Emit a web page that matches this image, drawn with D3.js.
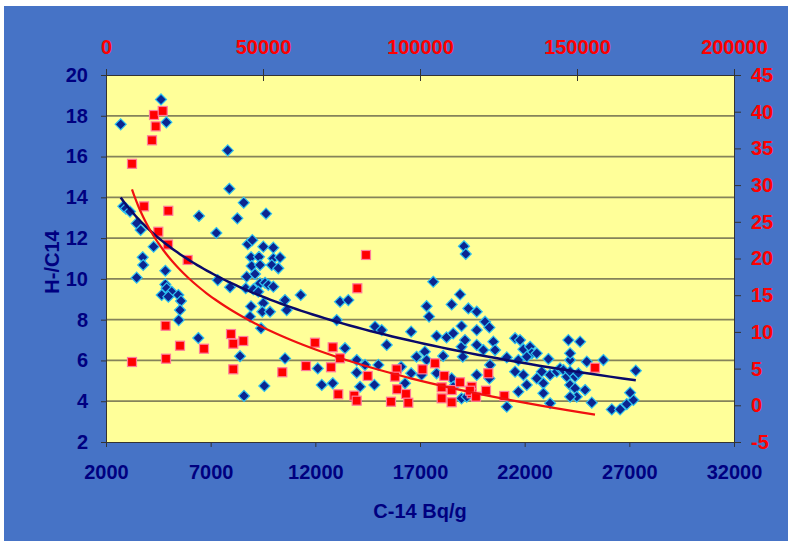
<!DOCTYPE html>
<html>
<head>
<meta charset="utf-8">
<script src="https://cdn.jsdelivr.net/npm/d3@7"></script>
<style>
html,body{margin:0;padding:0;background:#fff;}
svg{display:block;}
text{font-family:"Liberation Sans",Arial,sans-serif;font-weight:bold;}
</style>
</head>
<body>
<svg id="chart" width="788" height="541"></svg>
<script>
// ---- Data ----
const bottomTicks = [2000, 7000, 12000, 17000, 22000, 27000, 32000];
const leftTicks = [2, 4, 6, 8, 10, 12, 14, 16, 18, 20];
const topTicks = [0, 50000, 100000, 150000, 200000];
const rightTicks = [-5, 0, 5, 10, 15, 20, 25, 30, 35, 40, 45];
const xTitle = "C-14 Bq/g";
const yTitle = "H-/C14";

// Series 1 (blue diamonds): C-14 Bq/g (bottom axis) vs H-/C14 (left axis)
const blueX = [
 4628,2702,4883,7815,7893,8580,9645,6443,8274,7271,
 2828,2950,3147,3465,3656,4274,3752,3777,
 8770,8990,9516,9994,8928,9310,9994,10314,
 3465,4835,4835,4661,4899,5138,4978,5456,5583,5536,5472,6410,7337,7925,8402,8593,9564,10552,
 8957,9358,9917,10232,8722,9119,8675,9038,9358,9597,9755,9994,9277,
 8928,9516,9468,9836,10552,10632,8880,9406,
 19100,19186,17633,11302,13180,13576,18914,18513,19310,19711,17315,17433,13022,14852,15172,16576,15411,13417,
 12117,13977,14374,13977,15012,14135,14822,12308,12833,
 16834,17233,17315,18107,17792,18268,18587,18985,18985,19150,19711,19711,
 16098,16576,16286,17076,17792,18513,18587,18985,19711,19234,
 20109,20314,20027,20505,20586,19043,20347,20314,21146,21146,21700,21542,21781,21939,22259,22340,22101,22578,23133,
 21542,21939,22101,22578,22894,22894,23214,21700,22815,23214,23534,23692,23850,24012,24170,24409,24567,
 24170,24170,24089,24648,24170,24409,24489,24170,24887,24968,25761,25206,26162,26559,26879,27194,27037,27309
];
const blueY = [
 18.8,17.58,17.68,16.3,14.42,13.74,13.2,13.09,12.97,12.25,
 13.56,13.45,13.3,12.72,12.4,11.58,11.06,10.68,
 11.7,11.9,11.58,11.53,11.06,11.08,11.0,11.05,
 10.06,10.4,9.73,9.21,9.54,9.37,9.13,9.21,8.92,8.47,7.98,7.1,9.94,9.59,6.21,4.26,4.75,6.1,
 10.63,10.68,10.68,10.52,10.11,10.24,9.54,9.49,9.78,9.81,9.7,9.62,9.37,
 8.65,8.81,8.39,8.39,8.96,8.47,8.15,7.58,
 11.6,11.22,9.86,9.21,8.88,8.96,9.24,8.75,8.55,8.39,8.66,8.15,7.98,7.66,7.49,7.41,6.76,6.6,
 5.61,6.02,5.78,5.4,5.78,4.71,4.8,4.8,4.88,
 6.18,6.43,6.02,6.22,7.2,7.13,7.33,7.69,6.67,7.0,7.49,6.76,
 5.69,5.37,4.88,5.29,5.37,5.12,4.71,4.14,5.29,4.22,
 7.9,7.62,6.51,6.92,6.51,6.18,5.78,5.12,6.15,3.73,6.02,7.09,7.0,6.55,6.67,6.35,6.18,6.35,6.07,
 5.45,5.29,4.8,5.12,4.88,4.39,3.9,4.47,5.45,5.29,5.45,5.61,5.53,5.2,5.45,5.2,5.37,
 6.02,6.35,7.0,6.92,4.8,4.63,4.22,4.22,4.55,5.94,6.02,3.93,3.6,3.6,3.86,4.06,4.42,5.5
];

// Series 2 (red squares): top axis vs right axis
const redX = [
 15287,18057,15828,14650,8280,12102,19841,16656,19745,26000,
 18981,8280,19108,23567,31210,39809,40541,43726,40541,56146,
 82803,80037,66560,72198,74522,71656,63694,83344,73970,79076,79830,
 92547,92038,92739,95541,90764,96274,100796,104777,107739,106900,110080,112739,116465,116465,106900,110080,
 115923,117834,121019,121752,126847,155732
];
const redY = [
 39.55,40.1,38.0,36.1,32.9,27.1,26.5,23.65,21.9,19.8,
 10.84,5.9,6.35,8.12,7.71,9.71,8.39,8.76,4.9,4.5,
 20.48,15.94,8.53,7.9,6.4,5.18,5.35,4.0,1.5,1.31,0.63,
 4.9,3.9,2.18,1.54,0.49,0.35,4.9,5.72,4.0,2.45,2.08,3.13,2.53,1.63,0.95,0.41,
 1.99,1.17,1.99,4.36,1.27,5.12
];

// ---- Chart ----
const W = 788, H = 541;
const svg = d3.select("#chart");
const navy = "#000080", red = "#FF0000";
const fmt = d => String(d);

svg.append("rect").attr("x",4).attr("y",6).attr("width",W-4).attr("height",H-6).attr("fill","#4673C6");

const L = 106, R = 734, T = 75, B = 442;
const xB = d3.scaleLinear().domain([2000,32000]).range([L,R]);
const yL = d3.scaleLinear().domain([2,20]).range([B,T]);
const xT = d3.scaleLinear().domain([0,200000]).range([L,R]);
const yR = d3.scaleLinear().domain([-5,45]).range([B,T]);

svg.append("rect").attr("x",L).attr("y",T).attr("width",R-L).attr("height",B-T).attr("fill","#FFFF99");

// gridlines
svg.append("g").selectAll("line").data(leftTicks.filter(v=>v>2&&v<20)).join("line")
  .attr("x1",L).attr("x2",R).attr("y1",d=>yL(d)).attr("y2",d=>yL(d))
  .attr("stroke","#85835a").attr("stroke-width",1.8);

// axes
function styleAxis(g, color){
  g.selectAll(".domain").attr("stroke","#333").attr("stroke-width",1);
  g.selectAll(".tick line").attr("stroke","#333").attr("stroke-width",1);
  g.selectAll("text").attr("fill",color).attr("font-size","20px")
   .attr("font-family","'Liberation Sans',Arial,sans-serif").attr("font-weight","bold");
}
const gL = svg.append("g").attr("transform",`translate(${L},0)`)
  .call(d3.axisLeft(yL).tickValues(leftTicks).tickSize(5).tickPadding(13).tickSizeOuter(0).tickFormat(fmt));
styleAxis(gL, navy);
const gB = svg.append("g").attr("transform",`translate(0,${B})`)
  .call(d3.axisBottom(xB).tickValues(bottomTicks).tickSize(5).tickPadding(18).tickSizeOuter(0).tickFormat(fmt));
styleAxis(gB, navy);
const gT = svg.append("g").attr("transform",`translate(0,${T})`)
  .call(d3.axisTop(xT).tickValues(topTicks).tickSize(6).tickPadding(15).tickSizeOuter(0).tickFormat(fmt));
styleAxis(gT, red);
gT.selectAll(".tick line").attr("y2",-6).attr("y1",6);
const gR = svg.append("g").attr("transform",`translate(${R},0)`)
  .call(d3.axisRight(yR).tickValues(rightTicks).tickSize(7).tickPadding(10).tickSizeOuter(0).tickFormat(fmt));
styleAxis(gR, red);

// titles
svg.append("text").attr("x",420).attr("y",518).attr("text-anchor","middle")
  .attr("fill",navy).attr("font-size","20px").text(xTitle);
svg.append("text").attr("transform","translate(59,262) rotate(-90)").attr("text-anchor","middle")
  .attr("fill",navy).attr("font-size","20px").text(yTitle);

// data
const blue = blueX.map((x,i)=>({x, y:blueY[i]}));
const reds = redX.map((x,i)=>({x, y:redY[i]}));

svg.append("g").selectAll("path").data(blue).join("path")
  .attr("transform",d=>`translate(${xB(d.x)},${yL(d.y)})`)
  .attr("d","M0,-5.5L5.5,0L0,5.5L-5.5,0Z")
  .attr("fill","#0B2590").attr("stroke","#2EC0F0").attr("stroke-width",1.2);

svg.append("g").selectAll("rect").data(reds).join("rect")
  .attr("x",d=>xT(d.x)-4.5).attr("y",d=>yR(d.y)-4.5).attr("width",9).attr("height",9)
  .attr("fill","#FF0000").attr("stroke","#FF7C9C").attr("stroke-width",1.2);

// logarithmic trendlines (least squares on ln x)
function logFit(pts){
  const n = pts.length;
  let sx=0, sy=0, sxx=0, sxy=0;
  pts.forEach(p=>{const lx=Math.log(p.x); sx+=lx; sy+=p.y; sxx+=lx*lx; sxy+=lx*p.y;});
  const b = (n*sxy - sx*sy)/(n*sxx - sx*sx);
  const a = (sy - b*sx)/n;
  return {a,b};
}
function trend(pts, xs, ys, color, w){
  const f = logFit(pts);
  const [x0,x1] = d3.extent(pts, p=>p.x);
  const samp = d3.range(0,101).map(i=>x0*Math.pow(x1/x0,i/100));
  const line = d3.line().x(x=>xs(x)).y(x=>ys(f.a+f.b*Math.log(x))).curve(d3.curveLinear);
  svg.append("path").datum(samp).attr("d",line).attr("fill","none")
    .attr("stroke",color).attr("stroke-width",w);
}
trend(blue, xB, yL, "#0A0A6A", 2.5);
trend(reds, xT, yR, "#F01010", 2.2);
</script>
</body>
</html>
